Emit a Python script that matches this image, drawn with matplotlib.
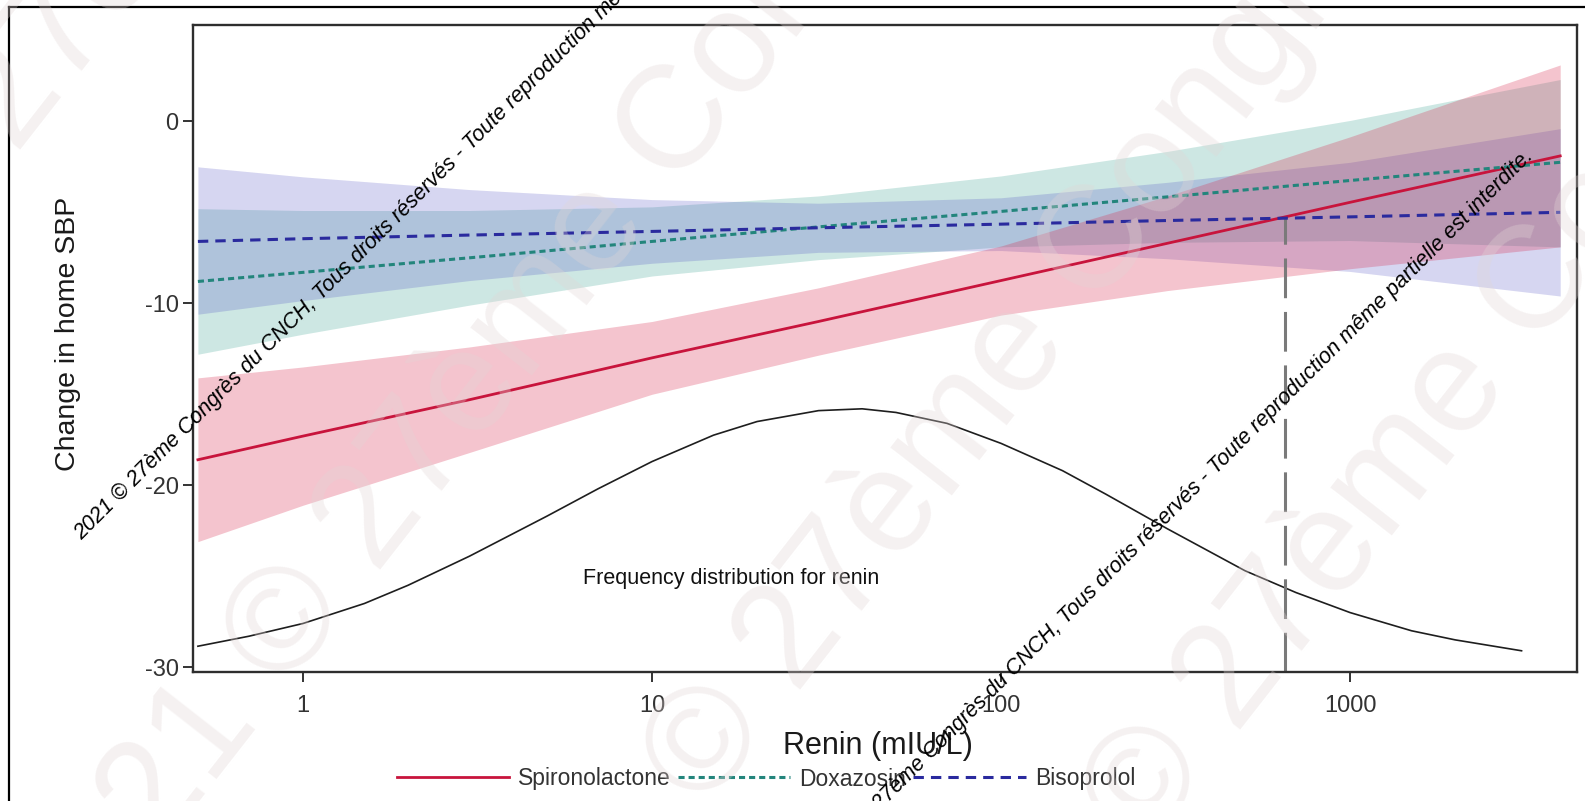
import numpy as np
import matplotlib.pyplot as plt
from matplotlib.lines import Line2D
from matplotlib.ticker import NullLocator

plt.rcParams['font.family'] = ['Liberation Sans', 'DejaVu Sans']

# fitted lines and 95% bands
renin = [0.5, 1, 3, 10, 30, 100, 300, 1000, 4000]
spiro = [-18.6, -17.3, -15.3, -13.0, -11.0, -8.75, -6.7, -4.45, -1.9]
spiro_lo = [-23.1, -21.1, -18.2, -15.0, -12.85, -10.65, -9.3, -8.1, -6.9]
spiro_hi = [-14.1, -13.5, -12.4, -11.0, -9.15, -6.85, -4.1, -0.85, 3.1]
doxa = [-8.8, -8.3, -7.5, -6.6, -5.8, -4.95, -4.15, -3.25, -2.25]
doxa_lo = [-12.8, -11.7, -10.1, -8.5, -7.6, -6.9, -6.65, -6.55, -6.9]
doxa_hi = [-4.8, -4.9, -4.9, -4.7, -4.1, -3.0, -1.65, 0.05, 2.3]
biso = [-6.6, -6.45, -6.25, -6.05, -5.85, -5.65, -5.45, -5.25, -5.0]
biso_lo = [-10.6, -9.85, -8.75, -7.8, -7.2, -7.1, -7.55, -8.25, -9.6]
biso_hi = [-2.5, -3.05, -3.75, -4.3, -4.5, -4.2, -3.35, -2.25, -0.4]

# frequency distribution of renin (drawn on the same y scale)
freq_renin = [0.5, 0.7, 1, 1.5, 2, 3, 5, 7, 10, 15, 20, 30, 40, 50, 70,
              100, 150, 200, 300, 500, 700, 1000, 1500, 2000, 3100]
freq_y = [-28.85, -28.3, -27.6, -26.5, -25.5, -23.9, -21.7, -20.2, -18.7,
          -17.25, -16.5, -15.9, -15.8, -16.0, -16.6, -17.7, -19.2, -20.5,
          -22.4, -24.7, -25.9, -27.0, -28.0, -28.5, -29.1]

cross_x = 650
cross_y = -5.3

xticks = [1, 10, 100, 1000]
xticklabels = ['1', '10', '100', '1000']
yticks = [-30, -20, -10, 0]
yticklabels = ['-30', '-20', '-10', '0']

wm = ('2021 \u00a9 27\u00e8me Congr\u00e8s du CNCH, Tous droits r\u00e9serv\u00e9s - '
      'Toute reproduction m\u00eame partielle est interdite.')

W, H = 1585, 801
fig = plt.figure(figsize=(W / 100, H / 100), dpi=100)
ax = fig.add_axes([192.5 / W, 1 - 671.7 / H, (1576.7 - 192.5) / W, (671.7 - 25.3) / H])

ax.fill_between(renin, doxa_lo, doxa_hi, color='#2e9e8a', alpha=0.24, lw=0)
ax.fill_between(renin, biso_lo, biso_hi, color='#4646c0', alpha=0.22, lw=0)
ax.fill_between(renin, spiro_lo, spiro_hi, color='#d8264a', alpha=0.27, lw=0)

ax.plot(freq_renin, freq_y, color='#1e1e1e', lw=1.2)
ax.plot([cross_x, cross_x], [-30.25, cross_y], color='#7a7a7a', lw=2.2,
        dashes=(13, 4.5))

l1, = ax.plot(renin, spiro, color='#c8143c', lw=2.0, label='Spironolactone')
l2, = ax.plot(renin, doxa, color='#23857c', lw=2.2, dashes=(2, 1.3), label='Doxazosin')
l3, = ax.plot(renin, biso, color='#2a2a9e', lw=2.2, dashes=(3.4, 2.3), label='Bisoprolol')

ax.text(16.8, -25.1, 'Frequency distribution for renin', ha='center', va='center',
        fontsize=15.5, color='#111111')

ax.set_xscale('log')
ax.set_xlim(0.4825, 4460)
ax.set_ylim(-30.25, 5.28)
ax.set_xticks(xticks)
ax.set_xticklabels(xticklabels)
ax.xaxis.set_minor_locator(NullLocator())
ax.set_yticks(yticks)
ax.set_yticklabels(yticklabels)
ax.tick_params(length=7, width=1.4, color='#333333', labelsize=17, labelcolor='#333333')
ax.tick_params(axis='x', pad=10)
ax.tick_params(axis='y', pad=3)
for s in ax.spines.values():
    s.set_linewidth(1.7)
    s.set_color('#2e2e2e')

fig.text(68 / W, 1 - 334 / H, 'Change in home SBP', rotation=90, ha='center',
         va='center', fontsize=20.5, color='#1a1a1a')
fig.text(878 / W, 1 - 746 / H, 'Renin (mIU/L)', ha='center', va='center',
         fontsize=22, color='#1a1a1a')

fig.legend(handles=[l1, l2, l3], loc='center', bbox_to_anchor=(766 / W, 1 - 779 / H),
           ncol=3, frameon=False, fontsize=16.5, handlelength=4.9,
           handletextpad=0.4, columnspacing=0.3, labelcolor='#333333')

# outer frame of the screenshot (left and top edges only)
fig.add_artist(Line2D([9 / W, 9 / W], [0, 1 - 7 / H], color='black', lw=1.6))
fig.add_artist(Line2D([9 / W, 1], [1 - 7 / H, 1 - 7 / H], color='black', lw=1.6))

# small copyright watermark lines
fig.text(82 / W, 1 - 540 / H, wm, rotation=45, rotation_mode='anchor', ha='left',
         va='baseline', fontsize=15.5, fontstyle='italic', color='black', zorder=20)
fig.text(1534 / W, 1 - 157 / H, wm, rotation=45, rotation_mode='anchor', ha='right',
         va='baseline', fontsize=15.5, fontstyle='italic', color='black', zorder=20)

# large faint background watermark
for x0, y0 in [(-300, 560), (60, 980), (480, 1100), (920, 1140)]:
    fig.text(x0 / W, 1 - y0 / H, wm, rotation=52, rotation_mode='anchor', ha='left',
             va='baseline', fontsize=105, color='#e2d6d6', alpha=0.33, zorder=15)

fig.savefig('out.png', dpi=100)
